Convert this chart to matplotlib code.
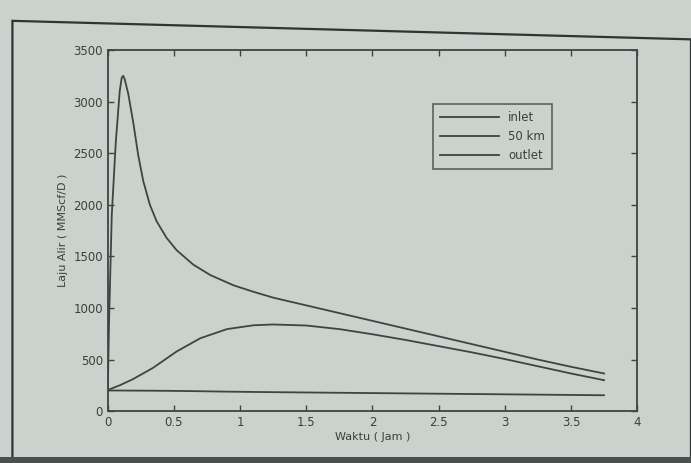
import matplotlib
matplotlib.use("Agg")
import matplotlib.pyplot as plt
from matplotlib.patches import Polygon

# time (jam) for inlet
waktu_in = [0, 0.01, 0.03, 0.06, 0.09, 0.105, 0.116, 0.127, 0.154, 0.192, 0.23, 0.268,
            0.318, 0.369, 0.444, 0.52, 0.646, 0.773, 0.949, 1.1, 1.25, 1.5, 1.75,
            2.0, 2.25, 2.5, 2.75, 3.0, 3.25, 3.5, 3.75]
inlet = [200, 900, 1900, 2600, 3100, 3230, 3250, 3220, 3080, 2800, 2480, 2230,
         2000, 1840, 1680, 1560, 1420, 1320, 1220, 1157, 1100, 1025, 950,
         875, 800, 725, 650, 575, 500, 430, 365]

# time (jam) for 50 km and outlet
waktu = [0, 0.09, 0.19, 0.34, 0.52, 0.7, 0.9, 1.1, 1.25, 1.5, 1.75, 2.0, 2.25,
         2.5, 2.75, 3.0, 3.25, 3.5, 3.75]
km50 = [205, 250, 310, 418, 578, 707, 795, 832, 840, 830, 795, 745, 690,
        630, 570, 505, 435, 365, 300]
outlet = [200, 200, 199, 198, 196, 193, 189, 186, 184, 181, 178, 175, 172,
          169, 166, 163, 160, 157, 154]

labels = ["inlet", "50 km", "outlet"]
xticks = [0, 0.5, 1, 1.5, 2, 2.5, 3, 3.5, 4]
xticklabels = ["0", "0.5", "1", "1.5", "2", "2.5", "3", "3.5", "4"]
yticks = [0, 500, 1000, 1500, 2000, 2500, 3000, 3500]

bg = "#c9d2cc"
ink = "#3c4542"

fig = plt.figure(figsize=(6.91, 4.63), dpi=100, facecolor=bg)
# paper frame seen in the photo
frame = Polygon([[0.018, 0.0], [0.018, 0.955], [1.0, 0.915], [1.0, 0.0]],
                closed=False, fill=False, edgecolor="#2e3533", linewidth=1.6,
                transform=fig.transFigure)
fig.add_artist(frame)
fig.patches.append(Polygon([[0, 0], [1, 0], [1, 0.012], [0, 0.012]],
                           closed=True, facecolor="#4a504e", edgecolor="none",
                           transform=fig.transFigure))

ax = fig.add_axes([0.156, 0.112, 0.766, 0.78])
ax.set_facecolor(bg)
ax.plot(waktu_in, inlet, color=ink, linewidth=1.3, label=labels[0])
ax.plot(waktu, km50, color=ink, linewidth=1.3, label=labels[1])
ax.plot(waktu, outlet, color=ink, linewidth=1.3, label=labels[2])

ax.set_xlim(0, 4)
ax.set_ylim(0, 3500)
ax.set_xticks(xticks)
ax.set_xticklabels(xticklabels)
ax.set_yticks(yticks)
ax.tick_params(direction="in", top=True, right=True, length=4, width=1,
               colors=ink, labelsize=8.5, labelcolor="#3a403e")
for s in ax.spines.values():
    s.set_color(ink)
    s.set_linewidth(1.3)
ax.set_xlabel("Waktu ( Jam )", fontsize=8, color="#3a403e", labelpad=2)
ax.set_ylabel("Laju Alir ( MMScf/D )", fontsize=8, color="#3a403e", labelpad=4)

leg = ax.legend(loc="upper left", bbox_to_anchor=(0.614, 0.85), borderaxespad=0,
                fontsize=8.5, handlelength=5, frameon=True, fancybox=False,
                borderpad=0.6, labelspacing=0.5, handletextpad=0.8)
leg.get_frame().set_facecolor(bg)
leg.get_frame().set_edgecolor(ink)
leg.get_frame().set_linewidth(1.2)
for t in leg.get_texts():
    t.set_color("#3a403e")

fig.savefig("out.png", dpi=100, facecolor=bg)
